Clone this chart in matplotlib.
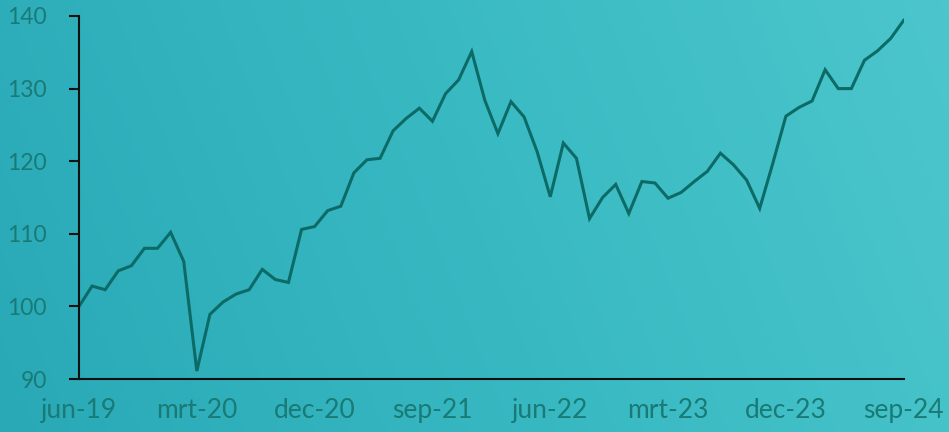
import numpy as np
import matplotlib
matplotlib.use("Agg")
import matplotlib.pyplot as plt
from matplotlib.colors import LinearSegmentedColormap

values = [100.0, 102.8, 102.3, 104.9, 105.6, 108.0, 108.0, 110.2, 106.2, 91.1,
          98.9, 100.6, 101.7, 102.3, 105.1, 103.7, 103.3, 110.6, 111.0, 113.2,
          113.8, 118.4, 120.2, 120.4, 124.2, 125.9, 127.3, 125.5, 129.3, 131.2,
          135.1, 128.4, 123.8, 128.2, 126.1, 121.3, 115.1, 122.5, 120.4, 112.1,
          115.0, 116.8, 112.8, 117.2, 117.0, 114.9, 115.7, 117.2, 118.6, 121.1,
          119.5, 117.4, 113.5, 119.7, 126.2, 127.4, 128.3, 132.6, 130.0, 130.0,
          133.9, 135.2, 136.9, 139.4]
tick_labels = ["jun-19", "mrt-20", "dec-20", "sep-21", "jun-22", "mrt-23", "dec-23", "sep-24"]
y_ticks = [90, 100, 110, 120, 130, 140]

fig = plt.figure(figsize=(9.49, 4.32), dpi=100)

# background gradient
bg = fig.add_axes([0, 0, 1, 1], zorder=-10)
cmap = LinearSegmentedColormap.from_list("bg", ["#29a9b6", "#38b9c2", "#4cc6cc"])
gx = np.linspace(0, 1, 256)
gy = np.linspace(0, 1, 64)
G = gx[None, :] * 0.85 + gy[:, None] * 0.15
bg.imshow(G, cmap=cmap, aspect="auto", extent=[0, 1, 0, 1], origin="lower")
bg.axis("off")

ax = fig.add_axes([79 / 949, 1 - 379 / 432, (903.7 - 79) / 949, (379 - 16) / 432])
ax.patch.set_alpha(0)
x = np.arange(len(values))
ax.plot(x, values, color="#0c6b66", linewidth=2.2, solid_joinstyle="miter")
ax.set_xlim(0, len(values) - 1)
ax.set_ylim(90, 140)
ax.set_yticks(y_ticks)
ax.set_yticklabels([str(t) for t in y_ticks])
ax.set_xticks(np.arange(0, len(values), 9))
ax.set_xticklabels(tick_labels)
for s in ["top", "right"]:
    ax.spines[s].set_visible(False)
for s in ["left", "bottom"]:
    ax.spines[s].set_color("#111111")
    ax.spines[s].set_linewidth(1.5)
txtcol = "#197a76"
ax.tick_params(axis="y", length=7, width=1.5, color="#111111", labelcolor=txtcol,
               labelsize=16.5, pad=16)
ax.tick_params(axis="x", length=0, labelcolor=txtcol, labelsize=19, pad=14)
for lab in ax.get_xticklabels() + ax.get_yticklabels():
    lab.set_family(["Lato", "DejaVu Sans"])
    lab.set_fontweight("normal")

fig.savefig("out.png", dpi=100)
